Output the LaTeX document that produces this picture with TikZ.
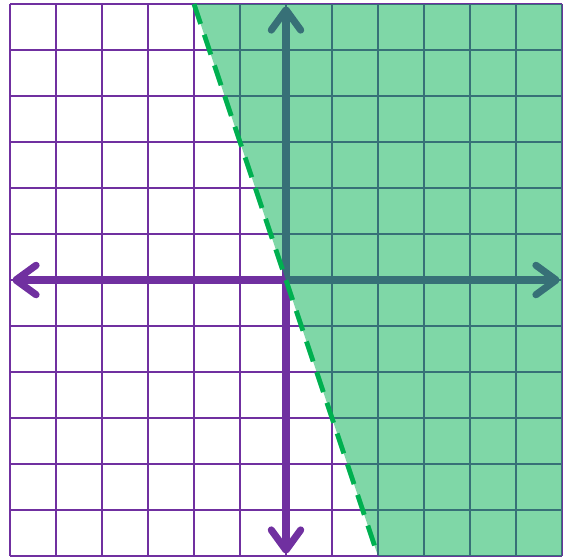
\documentclass[tikz,border=0pt]{standalone}
\usetikzlibrary{arrows.meta}
\definecolor{gridpurple}{HTML}{7030A0}
\definecolor{shadegreen}{HTML}{00B050}
\tikzset{
  gridline/.style={draw=gridpurple, line width=1.8pt},
  axisline/.style={draw=gridpurple, line width=4.4pt, line cap=round,
    {Straight Barb[length=4.4mm, width=6.4mm, round]}-{Straight Barb[length=4.4mm, width=6.4mm, round]}},
  region/.style={fill=shadegreen, fill opacity=0.5},
  boundary/.style={draw=shadegreen, line width=3pt, dash pattern=on 13pt off 7pt}
}
\begin{document}
\begin{tikzpicture}
\useasboundingbox (-6.217,-6.022) rectangle (6.152,6.087);
\draw[gridline] (-6,-6) grid (6,6);
\coordinate (L) at (-5.95,0);
\coordinate (R) at (5.95,0);
\coordinate (B) at (0,-5.95);
\coordinate (T) at (0,5.95);
\draw[axisline] (L) -- (R);
\draw[axisline] (B) -- (T);
\coordinate (P1) at (-2,6);
\coordinate (P2) at (2,-6);
\fill[region] (P1) -- (6,6) -- (6,-6) -- (P2) -- cycle;
\draw[boundary] (P1) -- (P2);
\end{tikzpicture}
\end{document}
